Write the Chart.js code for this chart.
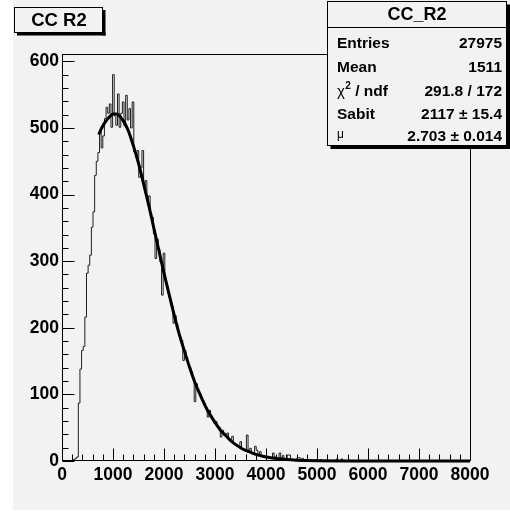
<!DOCTYPE html>
<html><head><meta charset="utf-8">
<script src="https://cdn.jsdelivr.net/npm/chart.js@4/dist/chart.umd.min.js"></script>
<style>html,body{margin:0;padding:0;background:#fff;overflow:hidden}#wrap{width:510px;height:511px}</style>
</head><body><div id="wrap"><canvas id="c" width="510" height="511"></canvas></div>
<script>
// ---- data ----
const binWidth = 32;          // 250 bins over 0..8000
const binCounts = [
  0,0,0,0,0,0,1,2,4,6,
  87,138,166,172,216,282,294,309,351,374,
  429,450,463,496,470,488,514,531,522,536,
  501,580,518,504,551,501,522,539,503,549,
  512,529,500,539,464,456,466,426,440,466,
  412,421,393,398,372,366,341,304,333,318,
  299,249,312,272,262,251,243,233,207,218,
  205,194,186,181,151,166,156,145,140,134,
  124,89,116,105,101,96,91,86,80,66,
  76,67,63,57,59,52,50,36,46,41,
  38,42,33,31,37,27,25,24,22,29,
  19,18,17,39,15,19,12,11,22,16,
  10,14,8,7,6,5,7,4,5,12,
  6,3,4,12,5,8,2,3,9,9,
  3,1,2,1,5,5,2,4,1,1,
  0,1,0,0,1,2,1,0,2,1,
  0,1,0,1,0,0,1,0,3,1,
  0,3,0,1,0,0,1,0,0,0,
  0,0,1,0,0,0,0,0,0,0,
  0,0,0,0,1,0,0,0,0,0,
  0,0,0,0,0,0,0,0,0,0,
  0,0,0,0,0,0,0,0,0,0,
  0,0,0,0,0,0,0,0,0,0,
  0,0,0,0,0,0,0,0,0,0,
  0,0,0,0,0,0,0,0,0,0
];
const fitX = [720,760,800,850,900,950,1000,1050,1100,1150,1200,1300,1400,1500,1600,1700,1800,1900,2000,2100,2200,2300,2400,2500,2600,2700,2800,2900,3000,3100,3200,3300,3400,3500,3600,3700,3800,3900,4000,4200,4400,4600,4800,5000,5500,6000,7000,8000];
const fitY = [490,497,503,509,514,518,521,521,520,516,511,496,473,447,416,384,350,316,282,250,219,190,165,141,119,101,84,70,58,47,39,31,25,20,16,13,10,7.9,6.1,3.7,2.1,1.2,0.7,0.4,0.08,0.02,0,0];
const xTicks = [0,1000,2000,3000,4000,5000,6000,7000,8000];
const yTicks = [0,100,200,300,400,500,600];
const xRange = [0, 8000];
const yRange = [0, 611];
const xMinor = 200, yMinor = 20;
const histTitle = "CC R2";
const statsTitle = "CC_R2";
const statsLabels = ["Entries", "Mean", "\u03c7\u00b2 / ndf", "Sabit", "\u03bc"];
const statsValues = ["27975", "1511", "291.8 / 172", "2117 \u00b1 15.4", "2.703 \u00b1 0.014"];

// ---- build datasets ----
const histPts = binCounts.map((v, i) => ({x: i * binWidth, y: v}));
histPts.push({x: binCounts.length * binWidth, y: binCounts[binCounts.length - 1]});
const fitPts = fitX.map((x, i) => ({x: x, y: fitY[i]}));

const FONT = '"Liberation Sans", Arial, Helvetica, sans-serif';
const BG = '#f2f2f2';

const rootLook = {
  id: 'rootLook',
  beforeDraw(chart) {
    const ctx = chart.ctx;
    ctx.save();
    ctx.fillStyle = '#ffffff';
    ctx.fillRect(0, 0, chart.width, chart.height);
    ctx.fillStyle = BG;
    ctx.fillRect(13, 0, chart.width - 13, 510);
    ctx.restore();
  },
  afterDatasetsDraw(chart) {
    const ctx = chart.ctx, a = chart.chartArea;
    const xs = chart.scales.x, ys = chart.scales.y;
    ctx.save();
    ctx.strokeStyle = '#000';
    ctx.lineWidth = 1;
    const L = Math.round(a.left) + 0.5, R = Math.round(a.right) + 0.5;
    const T = Math.round(a.top) + 0.5, B = Math.round(a.bottom) - 0.5;
    ctx.strokeRect(L, T, R - L, B - T);
    ctx.beginPath();
    for (let v = xRange[0]; v <= xRange[1]; v += xMinor) {
      const px = Math.round(xs.getPixelForValue(v)) + 0.5;
      const len = xTicks.includes(v) ? 12 : 6;
      ctx.moveTo(px, B); ctx.lineTo(px, B - len);
    }
    for (let v = yRange[0]; v <= yRange[1]; v += yMinor) {
      const py = Math.round(ys.getPixelForValue(v)) + 0.5;
      const len = yTicks.includes(v) ? 12 : 6;
      ctx.moveTo(L, py); ctx.lineTo(L + len, py);
    }
    ctx.stroke();
    ctx.restore();
  },
  afterDraw(chart) {
    const ctx = chart.ctx;
    ctx.save();
    // title box
    ctx.fillStyle = BG;
    ctx.fillRect(14.5, 7.5, 88, 25);
    ctx.strokeStyle = '#000'; ctx.lineWidth = 1;
    ctx.strokeRect(14.5, 7.5, 88, 25);
    ctx.fillStyle = '#000';
    ctx.fillRect(102.5, 10, 3, 25.5);
    ctx.fillRect(17, 32.5, 88.5, 3);
    ctx.font = 'bold 18.5px ' + FONT;
    ctx.textAlign = 'center'; ctx.textBaseline = 'middle';
    ctx.fillText(histTitle, 59, 21);

    // stats box
    const bx = 327.5, by = 1.5, bw = 179, bh = 144;
    ctx.fillStyle = BG;
    ctx.fillRect(bx, by, bw, bh);
    ctx.strokeRect(bx, by, bw, bh);
    ctx.beginPath(); ctx.moveTo(bx, 27.5); ctx.lineTo(bx + bw, 27.5); ctx.stroke();
    ctx.fillStyle = '#000';
    ctx.fillRect(bx + 3, by + bh, bw, 3.5);
    ctx.fillRect(bx + bw, by + 3, 3.5, bh + 0.5);
    ctx.font = 'bold 18px ' + FONT;
    ctx.textAlign = 'center';
    ctx.fillText(statsTitle, bx + bw / 2, 15);
    const rowY = [43.5, 68, 91.5, 115, 136.5];
    for (let i = 0; i < statsLabels.length; i++) {
      const y = rowY[i];
      ctx.textAlign = 'left';
      if (i === 2) {
        ctx.font = '15px ' + FONT;
        ctx.fillText('\u03c7', 337, y);
        const w1 = ctx.measureText('\u03c7').width;
        ctx.font = 'bold 10px ' + FONT;
        ctx.fillText('2', 337 + w1 + 0.5, y - 5);
        const w2 = ctx.measureText('2').width;
        ctx.font = 'bold 15.5px ' + FONT;
        ctx.fillText(' / ndf', 337 + w1 + w2 + 0.5, y);
      } else if (i === 4) {
        ctx.font = '12px ' + FONT;
        ctx.fillText(statsLabels[i], 337, y - 2);
      } else {
        ctx.font = 'bold 15.5px ' + FONT;
        ctx.fillText(statsLabels[i], 337, y);
      }
      ctx.font = 'bold 15.5px ' + FONT;
      ctx.textAlign = 'right';
      ctx.fillText(statsValues[i], 502, y);
    }
    ctx.restore();
  }
};

new Chart(document.getElementById('c'), {
  type: 'scatter',
  data: {
    datasets: [
      {
        label: 'CC_R2',
        data: histPts,
        showLine: true,
        stepped: 'before',
        borderColor: '#1e1e1e',
        borderWidth: 1,
        pointRadius: 0,
        fill: false,
        order: 2
      },
      {
        label: 'fit',
        data: fitPts,
        showLine: true,
        borderColor: '#000',
        borderWidth: 3,
        pointRadius: 0,
        cubicInterpolationMode: 'monotone',
        fill: false,
        clip: false,
        order: 1
      }
    ]
  },
  options: {
    responsive: false,
    animation: false,
    devicePixelRatio: 1,
    layout: {padding: {left: 0, top: 54, right: 40, bottom: 0}},
    plugins: {legend: {display: false}, tooltip: {enabled: false}, title: {display: false}},
    scales: {
      x: {
        type: 'linear', min: xRange[0], max: xRange[1],
        grid: {display: false, drawTicks: false},
        border: {display: false},
        ticks: {color: '#000', padding: 4, maxRotation: 0, autoSkip: false,
                callback: (v) => String(v),
                font: {family: FONT, size: 17.5, weight: 'bold'}},
        afterBuildTicks(s) { s.ticks = xTicks.map(v => ({value: v})); },
        afterFit(s) { s.height = 50; }
      },
      y: {
        type: 'linear', min: yRange[0], max: yRange[1],
        grid: {display: false, drawTicks: false},
        border: {display: false},
        ticks: {color: '#000', padding: 3, autoSkip: false,
                callback: (v) => String(v),
                font: {family: FONT, size: 17.5, weight: 'bold'}},
        afterBuildTicks(s) { s.ticks = yTicks.map(v => ({value: v})); },
        afterFit(s) { s.width = 62; }
      }
    }
  },
  plugins: [rootLook]
});
</script>
</body></html>
